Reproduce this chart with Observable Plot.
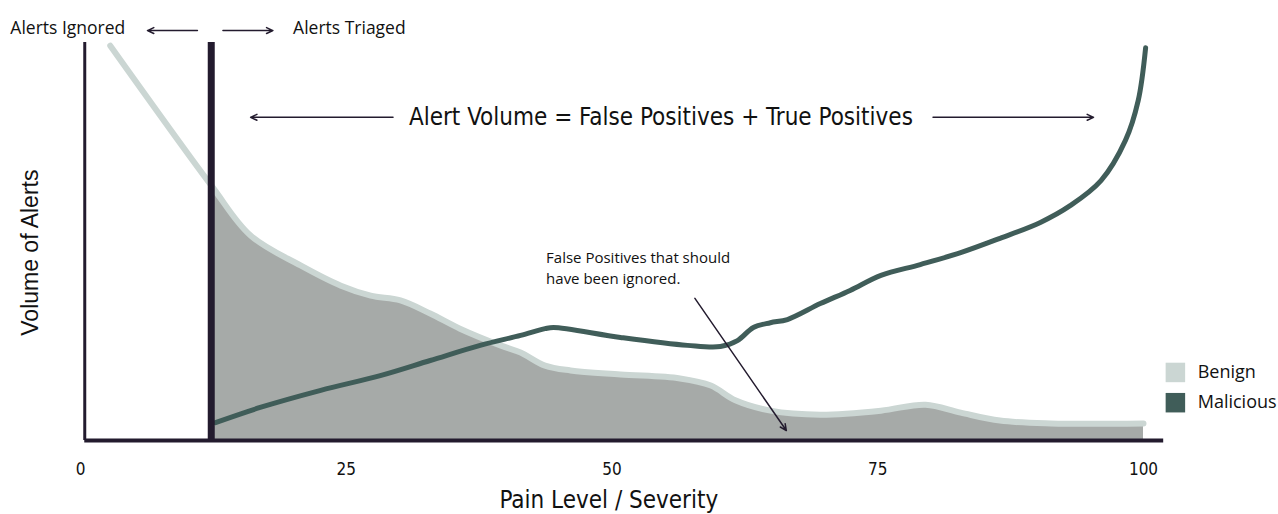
<!DOCTYPE html>
<html>
<head>
<meta charset="utf-8">
<script src="https://cdn.jsdelivr.net/npm/d3@7"></script>
<script src="https://cdn.jsdelivr.net/npm/@observablehq/plot@0.6"></script>
<style>
  html, body { margin: 0; padding: 0; background: #fff; }
  #chart svg { display: block; }
</style>
</head>
<body>
<div id="chart"></div>
<script>
// ---- data ----
const benignX = [2.8, 12.3, 16.0, 20.7, 24.5, 27.3, 30.1, 32.9, 35.7, 39.5, 41.4, 43.7, 46.1, 50.8, 56.4, 59.3, 61.6, 64.9, 69.6, 75.3, 79.5, 82.8, 86.5, 91.3, 100];
const benignY = [99.2, 64.1, 51.5, 44.0, 38.9, 36.4, 35.2, 31.9, 28.1, 23.9, 22.1, 18.8, 17.6, 16.6, 15.6, 13.8, 10.1, 7.5, 6.5, 7.5, 9.0, 7.0, 5.0, 4.3, 4.3];
const maliciousX = [12.7, 16.9, 22.6, 28.2, 32.9, 37.6, 41.4, 43.7, 44.5, 50.8, 57.1, 60.2, 61.8, 63.3, 64.9, 66.5, 69.6, 72.4, 75.3, 79.0, 82.8, 86.5, 90.3, 93.1, 96.0, 98.3, 99.5, 100.2];
const maliciousY = [4.5, 8.3, 12.6, 16.3, 20.1, 23.9, 26.4, 28.1, 28.4, 25.9, 23.9, 23.6, 25.1, 28.4, 29.6, 30.4, 34.4, 37.7, 41.5, 44.2, 47.2, 50.8, 54.8, 59.0, 65.3, 75.4, 85.4, 98.7];
const xTicks = [0, 25, 50, 75, 100];
const threshold = 12.3;
const seriesNames = ["Benign", "Malicious"];
const seriesColors = ["#cbd6d3", "#405d59"];

const benign = benignX.map((x, i) => ({x, y: benignY[i]}));
const malicious = maliciousX.map((x, i) => ({x, y: maliciousY[i]}));
const benignTriaged = benign.filter(d => d.x >= threshold);

const ink = "#231b2e";
const narrow = "'Liberation Sans Narrow','DejaVu Sans Condensed',sans-serif";
const plain = "'Open Sans',sans-serif";

const arrows = [
  {x1: 11.0, x2: 6.3, y1: 103, y2: 103},
  {x1: 13.4, x2: 18.1, y1: 103, y2: 103},
  {x1: 29.4, x2: 16.0, y1: 81.2, y2: 81.2},
  {x1: 80.2, x2: 95.3, y1: 81.2, y2: 81.2},
  {x1: 57.8, x2: 66.4, y1: 35.7, y2: 2.5}
];

const legend = seriesNames.map((name, i) => ({name, color: seriesColors[i], y: [17.1, 9.5][i]}));

const chart = Plot.plot({
  width: 1278,
  height: 514,
  marginLeft: 80,
  marginRight: 135,
  marginTop: 42,
  marginBottom: 74,
  x: {domain: [0, 100]},
  y: {domain: [0, 100], axis: null},
  marks: [
    Plot.areaY(benignTriaged, {x: "x", y: "y", fill: "#a6aaa8", curve: "catmull-rom"}),
    Plot.line(benign, {x: "x", y: "y", stroke: seriesColors[0], strokeWidth: 6, curve: "catmull-rom"}),
    Plot.line(malicious, {x: "x", y: "y", stroke: seriesColors[1], strokeWidth: 5, curve: "catmull-rom"}),
    Plot.ruleX([0.4], {y1: 0, y2: 100, stroke: ink, strokeWidth: 3}),
    Plot.ruleX([threshold], {y1: 0, y2: 100, stroke: ink, strokeWidth: 7}),
    Plot.ruleY([0], {x1: 0.4, x2: 101.9, stroke: ink, strokeWidth: 4}),
    Plot.axisX({ticks: xTicks, tickSize: 0, tickPadding: 22, fontSize: 17, fontFamily: narrow, color: "#111", label: null}),
    Plot.arrow(arrows, {x1: "x1", y1: "y1", x2: "x2", y2: "y2", stroke: ink, strokeWidth: 1.5, headLength: 7, headAngle: 50}),
    Plot.text(["Alerts Ignored"], {x: -6.6, y: 103.5, text: d => d, textAnchor: "start", fontSize: 17.5, fontFamily: plain, fill: "#111"}),
    Plot.text(["Alerts Triaged"], {x: 20.0, y: 103.5, text: d => d, textAnchor: "start", fontSize: 17.5, fontFamily: plain, fill: "#111"}),
    Plot.text(["Alert Volume = False Positives + True Positives"], {x: 54.6, y: 81.2, text: d => d, fontSize: 24, fontFamily: narrow, fill: "#111"}),
    Plot.text(["False Positives that should", "have been ignored."], {x: 43.8, y: [45.7, 40.5], text: d => d, textAnchor: "start", fontSize: 15, fontFamily: plain, fill: "#111"}),
    Plot.text(["Volume of Alerts"], {x: -4.7, y: 47.2, text: d => d, rotate: -90, fontSize: 23, fontFamily: "'Liberation Sans',sans-serif", fill: "#111"}),
    Plot.text(["Pain Level / Severity"], {x: 49.7, y: -15.1, text: d => d, fontSize: 24, fontFamily: narrow, fill: "#111"}),
    Plot.dot(legend, {x: 103.0, y: "y", symbol: "square", r: 11, fill: "color", stroke: "none"}),
    Plot.text(legend, {x: 105.1, y: "y", text: "name", textAnchor: "start", fontSize: 18, fontFamily: plain, fill: "#111"})
  ]
});
document.getElementById("chart").appendChild(chart);
</script>
</body>
</html>
